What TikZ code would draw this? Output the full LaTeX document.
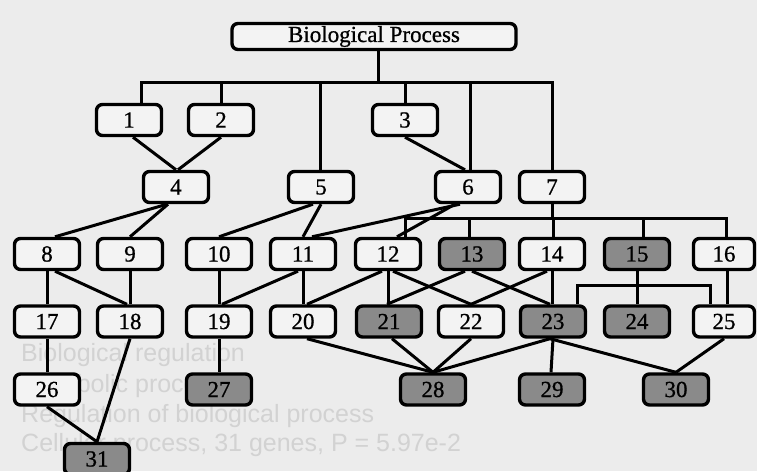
\documentclass[tikz,border=0pt]{standalone}
\usepackage{fontspec}
\setmainfont{Liberation Serif}
\newfontfamily\boxfont[FakeBold=0.8]{Liberation Serif}
\newfontfamily\ghostfont{Liberation Sans}
\definecolor{bgcol}{HTML}{ECECEC}
\definecolor{boxfill}{HTML}{F3F3F3}
\definecolor{darkfill}{HTML}{8A8A8A}
\definecolor{ghostcol}{HTML}{D2D2D2}
\pgfdeclarelayer{back}
\pgfdeclarelayer{links}
\pgfsetlayers{back,links,main}
\begin{document}
\begin{tikzpicture}[x=1pt,y=-1pt,
  gobox/.style={draw=black,line width=3.4pt,rounded corners=6pt,fill=boxfill,
    minimum width=65pt,minimum height=31pt,inner sep=0pt,font=\boxfont\fontsize{23}{26}\selectfont},
  dark/.style={gobox,fill=darkfill},
  link/.style={line width=3pt,draw=black},
  ghost/.style={anchor=west,inner sep=0pt,text=ghostcol,font=\ghostfont\fontsize{25}{28}\selectfont}]
\clip (0,0) rectangle (757,471);
\begin{pgfonlayer}{back}
\fill[bgcol] (0,0) rectangle (757,471);
% faint show-through legend
\node[ghost] (g1) at (21,355) {Biological regulation};
\node[ghost] (g2) at (21,386) {Metabolic process};
\node[ghost] (g3) at (21,416) {Regulation of biological process};
\node[ghost] (g4) at (21,445) {Cellular process, 31 genes, P = 5.97e-2};
\end{pgfonlayer}
% coordinates of the buses
\coordinate (busA) at (378,82);
\coordinate (busB) at (0,218);
\coordinate (busC) at (0,285);
% nodes
\node[gobox,minimum width=284pt,minimum height=26pt] (bp) at (374,36.5) {Biological Process};
\node[gobox] (n1) at (129,120) {1};
\node[gobox] (n2) at (221,120) {2};
\node[gobox] (n3) at (405,120) {3};
\node[gobox] (n4) at (176,187) {4};
\node[gobox] (n5) at (321,187) {5};
\node[gobox] (n6) at (468,187) {6};
\node[gobox] (n7) at (552,187) {7};
\node[gobox] (n8) at (47,254) {8};
\node[gobox] (n9) at (130,254) {9};
\node[gobox] (n10) at (219,254) {10};
\node[gobox] (n11) at (303,254) {11};
\node[gobox] (n12) at (388,254) {12};
\node[dark] (n13) at (472,254) {13};
\node[gobox] (n14) at (552,254) {14};
\node[dark] (n15) at (637,254) {15};
\node[gobox,minimum width=61pt] (n16) at (724,254) {16};
\node[gobox] (n17) at (47,321.5) {17};
\node[gobox] (n18) at (130,321.5) {18};
\node[gobox] (n19) at (219,321.5) {19};
\node[gobox] (n20) at (303,321.5) {20};
\node[dark] (n21) at (389,321.5) {21};
\node[gobox] (n22) at (471,321.5) {22};
\node[dark] (n23) at (553,321.5) {23};
\node[dark] (n24) at (637,321.5) {24};
\node[gobox,minimum width=61pt] (n25) at (724,321.5) {25};
\node[gobox] (n26) at (47,389.5) {26};
\node[dark] (n27) at (219,389.5) {27};
\node[dark] (n28) at (433,389.5) {28};
\node[dark] (n29) at (552,389.5) {29};
\node[dark] (n30) at (676,389.5) {30};
\node[dark] (n31) at (97,459) {31};
% connectors, drawn beneath the boxes
\begin{pgfonlayer}{links}
\draw[link] (bp.south -| busA) -- (busA);
\draw[link] ([xshift=12]n1.north) |- (n7.north |- busA) -- (n7.north);
\draw[link] (n2.north) -- (n2.north |- busA);
\draw[link] (n3.north) -- (n3.north |- busA);
\draw[link] ([xshift=-1]n5.north) -- ([xshift=-1]n5.north |- busA);
\draw[link] ([xshift=2]n6.north) -- ([xshift=2]n6.north |- busA);
\draw[link] ([xshift=4]n1.south) -- (n4.north);
\draw[link] (n2.south) -- ([xshift=2]n4.north);
\draw[link] (n3.south) -- ([xshift=-3]n6.north);
\draw[link] ([xshift=-9]n4.south) -- ([xshift=8]n8.north);
\draw[link] ([xshift=-8]n4.south) -- (n9.north);
\draw[link] ([xshift=-8]n5.south) -- (n10.north);
\draw[link] (n5.south) -- (n11.north);
\draw[link] ([xshift=-8]n6.south) -- ([xshift=9]n11.north);
\draw[link] ([xshift=-13]n6.south) -- ([xshift=9]n12.north);
\draw[link] (n7.south) -- (n7.south |- busB);
\draw[link] ([xshift=17]n12.north) |- ([xshift=2]n16.north |- busB) -- ([xshift=2]n16.north);
\draw[link] ([xshift=-3]n13.north) -- ([xshift=-3]n13.north |- busB);
\draw[link] ([xshift=1]n14.north) -- ([xshift=1]n14.north |- busB);
\draw[link] ([xshift=6]n15.north) -- ([xshift=6]n15.north |- busB);
\draw[link] (n8.south) -- (n17.north);
\draw[link] ([xshift=8]n8.south) -- ([xshift=-3]n18.north);
\draw[link] (n9.south) -- (n18.north);
\draw[link] (n10.south) -- (n19.north);
\draw[link] ([xshift=-5]n11.south) -- ([xshift=3]n19.north);
\draw[link] (n11.south) -- (n20.north);
\draw[link] ([xshift=-6]n12.south) -- ([xshift=4]n20.north);
\draw[link] (n12.south) -- ([xshift=-1]n21.north);
\draw[link] ([xshift=5]n12.south) -- (n22.north);
\draw[link] ([xshift=-7]n13.south) -- ([xshift=-2]n21.north);
\draw[link] (n13.south) -- ([xshift=-3]n23.north);
\draw[link] ([xshift=-5]n14.south) -- (n22.north);
\draw[link] (n14.south) -- ([xshift=-1]n23.north);
\draw[link] (n15.south) -- (n24.north);
\draw[link] ([xshift=24]n23.north) |- ([xshift=-14]n25.north |- busC) -- ([xshift=-14]n25.north);
\draw[link] ([xshift=3]n16.south) -- ([xshift=3]n25.north);
\draw[link] (n17.south) -- (n26.north);
\draw[link] (n19.south) -- (n27.north);
\draw[link] ([xshift=4]n20.south) -- (n28.north);
\draw[link] ([xshift=3]n21.south) -- (n28.north);
\draw[link] (n22.south) -- (n28.north);
\draw[link] ([xshift=-3]n23.south) -- (n28.north);
\draw[link] (n23.south) -- ([xshift=-1]n29.north);
\draw[link] ([xshift=-3]n23.south) -- (n30.north);
\draw[link] (n25.south) -- (n30.north);
\draw[link] (n26.south) -- (n31.north);
\draw[link] (n18.south) -- (n31.north);
\end{pgfonlayer}
\end{tikzpicture}
\end{document}
